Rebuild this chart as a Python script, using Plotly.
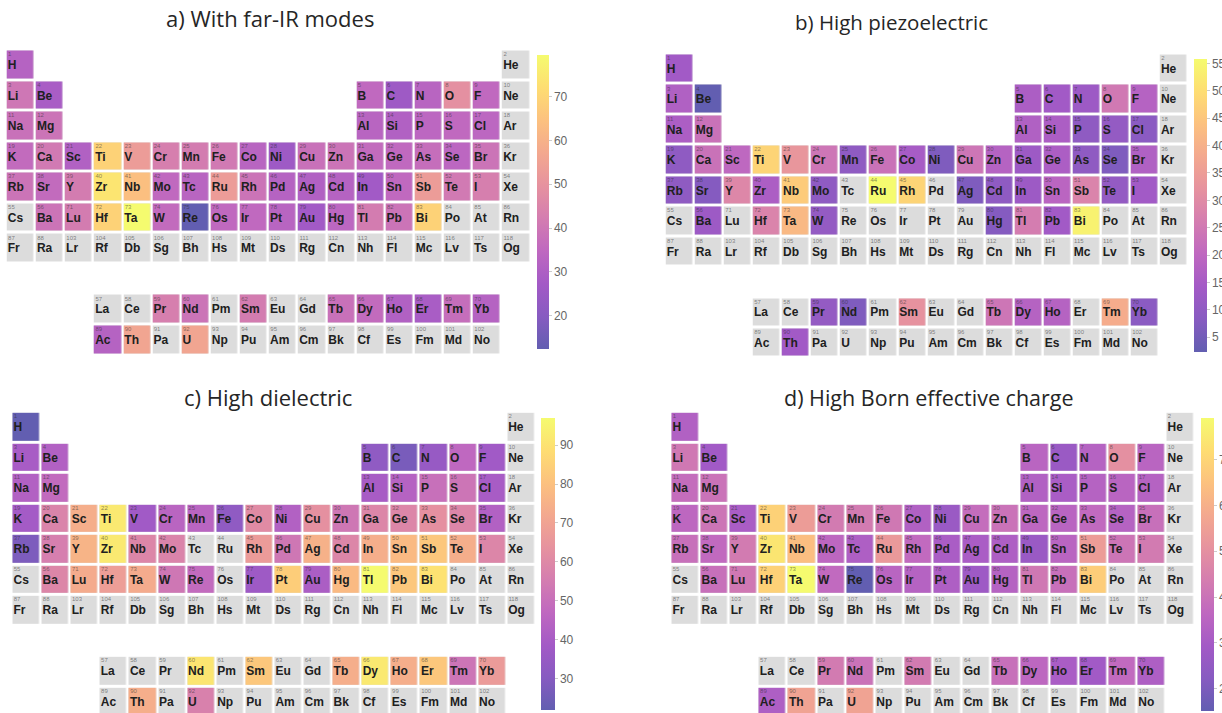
import plotly.graph_objects as go

W, H = 1222, 713

SYMBOLS = (
    "H He Li Be B C N O F Ne Na Mg Al Si P S Cl Ar K Ca Sc Ti V Cr Mn Fe Co Ni Cu Zn "
    "Ga Ge As Se Br Kr Rb Sr Y Zr Nb Mo Tc Ru Rh Pd Ag Cd In Sn Sb Te I Xe Cs Ba La Ce "
    "Pr Nd Pm Sm Eu Gd Tb Dy Ho Er Tm Yb Lu Hf Ta W Re Os Ir Pt Au Hg Tl Pb Bi Po At Rn "
    "Fr Ra Ac Th Pa U Np Pu Am Cm Bk Cf Es Fm Md No Lr Rf Db Sg Bh Hs Mt Ds Rg Cn Nh Fl "
    "Mc Lv Ts Og"
).split()

# share of materials per element (%), one dict per subset
far_ir = {
    "H": 32, "Li": 40, "Be": 29, "Na": 38, "Mg": 39, "K": 36, "Ca": 41, "Sc": 31,
    "Ti": 69, "V": 53, "Cr": 43, "Mn": 42, "Fe": 41, "Co": 33, "Ni": 26, "Cu": 38,
    "Zn": 39, "Ga": 36, "Ge": 35, "As": 37, "Se": 34, "Br": 39, "Rb": 39, "Sr": 36,
    "Y": 42, "Zr": 74, "Nb": 64, "Mo": 35, "Tc": 33, "Ru": 53, "Rh": 39, "Pd": 32,
    "Ag": 31, "Cd": 32, "In": 27, "Sn": 35, "Sb": 53, "Te": 41, "I": 43, "Ba": 39,
    "Lu": 42, "Hf": 69, "Ta": 79.5, "W": 36, "Re": 12.4, "Os": 35, "Ir": 35, "Pt": 33,
    "Au": 27, "Hg": 34, "Tl": 42, "Pb": 39, "Bi": 69, "B": 35, "C": 26, "N": 33,
    "O": 49, "F": 35, "Al": 33, "Si": 31, "P": 34, "S": 35, "Cl": 34,
    "Pr": 43, "Nd": 39, "Sm": 42, "Tb": 38, "Dy": 36, "Ho": 31, "Er": 29, "Tm": 37,
    "Yb": 32, "Ac": 32, "Th": 56, "U": 56,
}

piezo = {
    "H": 14, "Li": 17, "Be": 2.3, "Na": 16, "Mg": 23, "K": 10, "Ca": 23, "Sc": 20,
    "Ti": 48, "V": 33, "Cr": 24, "Mn": 10, "Fe": 23, "Co": 15, "Ni": 7, "Cu": 24,
    "Zn": 18, "Ga": 13, "Ge": 16, "As": 10, "Se": 7, "Br": 17, "Rb": 10, "Sr": 8,
    "Y": 29, "Zr": 16, "Nb": 46, "Mo": 10, "Ru": 55.8, "Rh": 48, "Ag": 7, "Cd": 10,
    "In": 13, "Sn": 19, "Sb": 28, "Te": 11, "I": 14, "Ba": 13, "Hf": 28, "Ta": 42,
    "W": 11, "Hg": 8, "Tl": 26, "Pb": 14, "Bi": 54, "B": 16, "C": 14, "N": 13,
    "O": 25, "F": 18, "Al": 17, "Si": 16, "P": 10, "S": 11, "Cl": 9,
    "Pr": 11, "Nd": 7, "Sm": 32, "Tb": 24, "Dy": 18, "Ho": 18, "Tm": 39, "Yb": 9,
    "Th": 14,
}

dielectric = {
    "H": 21.9, "Li": 40, "Be": 43, "Na": 43, "Mg": 48, "K": 39, "Ca": 58, "Sc": 74,
    "Ti": 92, "V": 38, "Cr": 45, "Mn": 45, "Fe": 33, "Co": 61, "Ni": 43, "Cu": 63,
    "Zn": 53, "Ga": 59, "Ge": 59, "As": 63, "Se": 59, "Br": 43, "Rb": 28, "Sr": 56,
    "Y": 76, "Zr": 92, "Nb": 59, "Mo": 58, "Rh": 67, "Pd": 53, "Ag": 75, "Cd": 59,
    "In": 74, "Sn": 78, "Sb": 82, "Te": 74, "I": 59, "Ba": 59, "Lu": 73, "Hf": 68,
    "Ta": 73, "W": 53, "Re": 48, "Ir": 37, "Pt": 84, "Au": 41, "Hg": 78, "Tl": 97,
    "Pb": 82, "Bi": 90, "B": 33, "C": 27, "N": 35, "O": 47, "F": 38, "Al": 40,
    "Si": 44, "P": 50, "S": 52, "Cl": 40,
    "Nd": 91, "Sm": 82, "Tb": 74, "Dy": 92, "Ho": 74, "Er": 82, "Tm": 52, "Yb": 67,
    "Th": 74, "U": 57,
}

born = {
    "H": 33, "Li": 42, "Be": 29, "Na": 38, "Mg": 40, "K": 36, "Ca": 41, "Sc": 31,
    "Ti": 69, "V": 54, "Cr": 43, "Mn": 43, "Fe": 42, "Co": 33, "Ni": 27, "Cu": 38,
    "Zn": 40, "Ga": 36, "Ge": 35, "As": 37, "Se": 34, "Br": 39, "Rb": 39, "Sr": 37,
    "Y": 43, "Zr": 74, "Nb": 64, "Mo": 36, "Tc": 32, "Ru": 53, "Rh": 37, "Pd": 31,
    "Ag": 31, "Cd": 32, "In": 27, "Sn": 35, "Sb": 54, "Te": 41, "I": 43, "Ba": 39,
    "Lu": 42, "Hf": 69, "Ta": 79.1, "W": 37, "Re": 15.1, "Os": 35, "Ir": 34, "Pt": 32,
    "Au": 28, "Hg": 34, "Tl": 42, "Pb": 39, "Bi": 68, "B": 35, "C": 27, "N": 34,
    "O": 50, "F": 35, "Al": 33, "Si": 31, "P": 34, "S": 35, "Cl": 34,
    "Pr": 43, "Nd": 40, "Sm": 43, "Tb": 39, "Dy": 36, "Ho": 31, "Er": 29, "Tm": 37,
    "Yb": 32, "Ac": 32, "Th": 56, "U": 56,
}

TITLES = ["a) With far-IR modes", "b) High piezoelectric",
          "c) High dielectric", "d) High Born effective charge"]


def cell(z):
    """(row, column) of element z in the 18-column table, f-block in rows 8-9."""
    if z == 1:
        return 0, 0
    if z == 2:
        return 0, 17
    if z <= 4:
        return 1, z - 3
    if z <= 10:
        return 1, z + 7
    if z <= 12:
        return 2, z - 11
    if z <= 18:
        return 2, z - 1
    if z <= 36:
        return 3, z - 19
    if z <= 54:
        return 4, z - 37
    if z <= 56:
        return 5, z - 55
    if z <= 70:
        return 8, z - 54
    if z <= 86:
        return 5, z - 69
    if z <= 88:
        return 6, z - 87
    if z <= 102:
        return 9, z - 86
    return 6, z - 101


# plasma, washed out towards white
PLASMA = ["#0d0887", "#46039f", "#7201a8", "#9c179e", "#bd3786",
          "#d8576b", "#ed7953", "#fb9f3a", "#fdca26", "#f0f921"]
ALPHA = 0.65


def soften(hexcol):
    r, g, b = (int(hexcol[i:i + 2], 16) for i in (1, 3, 5))
    mix = [round(ALPHA * c + (1 - ALPHA) * 255) for c in (r, g, b)]
    return "rgb({},{},{})".format(*mix)


SCALE = [[i / (len(PLASMA) - 1), soften(c)] for i, c in enumerate(PLASMA)]

# layout of each panel in pixels: table box, row pitch, colourbar, title centre and size
PANEL_STYLE = [
    dict(box=(5.75, 49.5, 530.25), pitch=30.56, cbar=(537, 55, 349, 12), dtick=10,
         title=(270, 18), tsize=22),
    dict(box=(664.75, 53.5, 1187.95), pitch=30.44, cbar=(1194, 59, 352, 13), dtick=5,
         title=(891, 22), tsize=20.5),
    dict(box=(11.45, 411.8, 535.25), pitch=30.5, cbar=(541, 418, 710, 14), dtick=10,
         title=(268, 397), tsize=22),
    dict(box=(670.45, 411.8, 1194.55), pitch=30.5, cbar=(1201, 418, 711, 13), dtick=10,
         title=(929, 397), tsize=21.5),
]

GAP_X, GAP_Y = 2.5, 3
GRAY = "#dcdcdc"

fig = go.Figure()
layout = dict(width=W, height=H,
              margin=dict(l=0, r=0, t=0, b=0, pad=0, autoexpand=False),
              paper_bgcolor="white", plot_bgcolor="white", showlegend=False,
              annotations=[])

cols = list(range(18))
rows = list(range(10))

for k, (values, title, st) in enumerate(zip([far_ir, piezo, dielectric, born], TITLES, PANEL_STYLE)):
    n = k + 1
    xa, ya = ("x" if n == 1 else f"x{n}"), ("y" if n == 1 else f"y{n}")
    x0, y0, x1 = st["box"]
    q = st["pitch"]
    y1 = y0 + 10 * q
    yb = min(y1, H)

    base = [[None] * 18 for _ in rows]
    zval = [[None] * 18 for _ in rows]
    sx, sy, st_txt, nx, ny, nt = [], [], [], [], [], []
    for z, sym in enumerate(SYMBOLS, start=1):
        r, c = cell(z)
        base[r][c] = 1
        if sym in values:
            zval[r][c] = values[sym]
        sx.append(c - 0.43)
        sy.append(r + 0.04)
        st_txt.append(sym)
        nx.append(c - 0.42)
        ny.append(r - 0.33)
        nt.append(str(z))

    fig.add_trace(go.Heatmap(
        z=base, x=cols, y=rows, colorscale=[[0, GRAY], [1, GRAY]], showscale=False,
        xgap=GAP_X, ygap=GAP_Y, hoverinfo="skip", xaxis=xa, yaxis=ya))

    cx, ctop, cbot, cth = st["cbar"]
    fig.add_trace(go.Heatmap(
        z=zval, x=cols, y=rows, colorscale=SCALE, xgap=GAP_X, ygap=GAP_Y,
        hoverongaps=False, xaxis=xa, yaxis=ya,
        colorbar=dict(
            x=cx / W, xanchor="left", xref="paper",
            y=1 - ctop / H, yanchor="top", yref="paper",
            len=cbot - ctop, lenmode="pixels",
            thickness=cth, thicknessmode="pixels",
            xpad=0, ypad=0, outlinewidth=0, dtick=st["dtick"],
            ticks="outside", ticklen=3, tickcolor="#cccccc",
            tickfont=dict(family="Liberation Sans, Arial", size=12, color="#666666"),
        )))

    fig.add_trace(go.Scatter(
        x=sx, y=sy, text=st_txt, mode="text", textposition="middle right",
        textfont=dict(family="Liberation Sans, Arial", size=12, color="#202020", weight="bold"),
        hoverinfo="skip", xaxis=xa, yaxis=ya))
    fig.add_trace(go.Scatter(
        x=nx, y=ny, text=nt, mode="text", textposition="middle right",
        textfont=dict(family="Liberation Sans, Arial", size=6, color="rgba(40,40,40,0.55)"),
        hoverinfo="skip", xaxis=xa, yaxis=ya))

    ax_x = dict(domain=[x0 / W, x1 / W], range=[-0.5, 17.5], visible=False,
                fixedrange=True, anchor=ya)
    ax_y = dict(domain=[max(0.0, 1 - y1 / H), 1 - y0 / H],
                range=[-0.5 + (yb - y0) / q, -0.5], visible=False,
                fixedrange=True, anchor=xa)
    layout["xaxis" if n == 1 else f"xaxis{n}"] = ax_x
    layout["yaxis" if n == 1 else f"yaxis{n}"] = ax_y

    tx, ty = st["title"]
    layout["annotations"].append(dict(
        text=title, x=tx / W, y=1 - ty / H, xref="paper", yref="paper",
        xanchor="center", yanchor="middle", showarrow=False,
        font=dict(family="Open Sans", size=st["tsize"], color="#262626")))

fig.update_layout(**layout)
fig.write_html("out.html")
